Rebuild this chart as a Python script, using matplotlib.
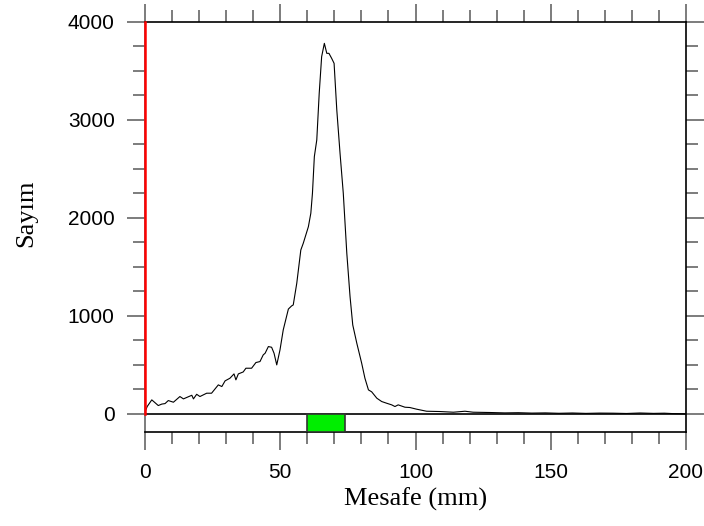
import matplotlib
matplotlib.use("Agg")
import matplotlib.pyplot as plt
from matplotlib.ticker import MultipleLocator

# distance (mm) and counts
mesafe = [0, 0.8, 2.5, 4.9, 6.2, 7.4, 8.6, 10.5, 12.9, 14.2, 17.3, 17.9, 19.1, 20.3,
          22.8, 24.6, 27.1, 28.4, 29.6, 31.4, 32.9, 33.6, 34.5, 36.3, 37.3, 39.4,
          41.0, 42.5, 43.7, 44.4, 45.6, 46.8, 47.7, 48.7, 49.9, 51.1, 53.0, 54.2,
          54.8, 56.1, 57.6, 58.5, 60.4, 61.3, 61.9, 62.6, 63.5, 64.4, 65.3, 66.3,
          67.2, 68.0, 69.0, 69.9, 70.9, 72.1, 73.3, 74.6, 75.8, 76.8, 78.3, 80.1,
          81.3, 82.6, 83.8, 85.7, 87.5, 89.3, 91.2, 92.4, 93.6, 96.1, 97.9, 100.4,
          104.1, 109.0, 114.0, 118.3, 121.3, 127.5, 133, 138, 143, 148, 153, 158,
          163, 168, 173, 178, 183, 188, 192, 195, 200]
sayim = [20, 75, 143, 85, 100, 105, 136, 119, 177, 153, 190, 153, 200, 177,
         211, 211, 296, 279, 337, 364, 408, 347, 408, 428, 466, 466,
         524, 534, 602, 619, 687, 680, 619, 500, 653, 857, 1070, 1102,
         1112, 1333, 1673, 1741, 1911, 2048, 2252, 2626, 2796, 3272, 3646, 3782,
         3680, 3680, 3629, 3578, 3102, 2660, 2252, 1640, 1197, 908, 721, 517,
         364, 245, 225, 160, 126, 109, 92, 75, 92, 68, 65, 48,
         27, 24, 17, 27, 17, 14, 10, 12, 8, 10, 6, 9,
         5, 8, 7, 4, 9, 5, 7, 3, 0]

bolge = (60, 74)  # highlighted green interval

plt.rcParams['font.family'] = ['Liberation Sans', 'DejaVu Sans']

fig = plt.figure(figsize=(7.04, 5.26), dpi=100)
ax = fig.add_axes([0.206, 0.1787, 0.7684, 0.7795])

ax.plot(mesafe, sayim, color='black', lw=0.8)
ax.axhline(0, color='black', lw=1.2)
ax.plot([0, 0], [0, 4000], color='red', lw=1.8, zorder=10, clip_on=False)

ax.bar((bolge[0] + bolge[1]) / 2, -185, width=bolge[1] - bolge[0],
       color='#00ee00', edgecolor='#333333', lw=1.2, zorder=3)

ax.set_xlim(0, 200)
ax.set_ylim(-185, 4000)
ax.xaxis.set_major_locator(MultipleLocator(50))
ax.xaxis.set_minor_locator(MultipleLocator(10))
ax.set_yticks([0, 1000, 2000, 3000, 4000])
ax.yaxis.set_minor_locator(MultipleLocator(250))

ax.tick_params(which='both', direction='out', top=True, right=True,
               color='#666666', width=1.2, labelsize=15)
ax.tick_params(which='major', length=13.2)
ax.tick_params(which='minor', length=8.6)
ax.tick_params(axis='x', pad=9.4)
ax.tick_params(axis='y', pad=8.6)

for t in ax.yaxis.get_major_ticks()[:1]:
    t.tick1line.set_color('black')
    t.tick2line.set_color('black')

for s in ['top', 'right', 'bottom']:
    ax.spines[s].set_linewidth(1.2)
ax.spines['left'].set_color('#666666')
ax.spines['left'].set_linewidth(1.2)

ax.set_xlabel('Mesafe (mm)', family=['Liberation Serif', 'DejaVu Serif'],
              fontsize=19)
ax.xaxis.label.set_va('baseline')
ax.xaxis.set_label_coords(0.5, -0.18)
ax.set_ylabel('Sayım', family=['Liberation Serif', 'DejaVu Serif'],
              fontsize=19)
ax.yaxis.set_label_coords(-0.2, 0.533)

fig.savefig('out.png', dpi=100)
